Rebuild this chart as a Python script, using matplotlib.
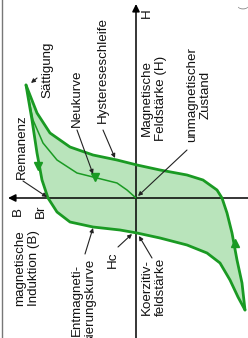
import matplotlib
matplotlib.use("Agg")
import matplotlib.pyplot as plt

plt.rcParams['font.family'] = ['Liberation Sans', 'DejaVu Sans']

# Hysteresis loop data (H = magnetic field strength, B = induction), arbitrary units
desc_H = [113, 78, 45, 18, 0, -14, -24, -29, -32, -35, -40, -47, -55, -65, -82, -99, -112]
desc_B = [110, 104, 99, 94, 88, 79, 66, 43, 16, -1, -24, -51, -71, -84, -94, -102, -109]

asc_H = [-112, -85, -62, -35, -15, 0, 8, 18, 23, 28, 33, 38, 43, 51, 65, 85, 113]
asc_B = [-109, -106, -101, -96, -91, -86, -81, -67, -51, -24, -1, 19, 43, 66, 86, 99, 110]

virgin_H = [0, 8, 15, 20, 25, 38, 55, 78, 113]
virgin_B = [0, 9, 19, 39, 59, 79, 93, 103, 110]

GREEN = '#1a9a23'
FILL = '#b9e4bb'

W, Hh = 248, 338
OX, OY = 136, 198  # pixel position of origin

fig = plt.figure(figsize=(W / 100, Hh / 100), dpi=100)
ax = fig.add_axes([0, 0, 1, 1])
ax.set_xlim(-OX, W - OX)
ax.set_ylim(OY - Hh, OY)
ax.axis('off')


def P(px, py):
    return (px - OX, OY - py)


# rotated chart: image x = -B, image y = H
def rot(Hs, Bs):
    return [-b for b in Bs], list(Hs)


dx, dy = rot(desc_H, desc_B)
ax_, ay_ = rot(asc_H, asc_B)
vx, vy = rot(virgin_H, virgin_B)

ax.fill(dx + ax_, dy + ay_, color=FILL, lw=0, zorder=1)

# axes
ax.annotate('', xy=P(OX, 4), xytext=P(OX, Hh + 2),
            arrowprops=dict(arrowstyle='-|>', color='black', lw=1.1,
                            mutation_scale=11, shrinkA=0, shrinkB=0), zorder=2)
ax.annotate('', xy=P(8, OY), xytext=P(W + 2, OY),
            arrowprops=dict(arrowstyle='-|>', color='black', lw=1.1,
                            mutation_scale=11, shrinkA=0, shrinkB=0), zorder=2)
ax.plot([P(2, 0)[0], P(2, Hh)[0]], [P(2, 0)[1], P(2, Hh)[1]], color='#777777', lw=1.0)

for xs, ys, lw in ((dx, dy, 2.0), (ax_, ay_, 2.0), (vx, vy, 1.1)):
    ax.plot(xs, ys, color=GREEN, lw=lw, zorder=3,
            solid_joinstyle='round', solid_capstyle='round')

# direction arrowheads
ax.plot(*P(38, 166), marker='v', color=GREEN, ms=6, zorder=4)
ax.plot(*P(235, 243), marker='^', color=GREEN, ms=6, zorder=4)
ax.plot(*P(95, 177), marker='v', color=GREEN, ms=6, zorder=4)

fs = 9.6
texts = [
    ("Sättigung", 47, 70),
    ("Neukurve", 77, 98),
    ("Hystereseschleife", 103, 70),
    ("Remanenz", 22, 147),
    ("B", 18, 211),
    ("Br", 41, 211),
    ("magnetische\nInduktion (B)", 27, 268),
    ("Entmagneti-\nsierungskurve", 84, 300),
    ("Hc", 113, 260),
    ("Koerzitiv-\nfeldstärke", 154, 287),
    ("Magnetische\nFeldstärke (H)", 154, 98),
    ("unmagnetischer\nZustand", 199, 95),
    ("H", 147, 13),
]
for s, x, y in texts:
    ax.text(*P(x, y), s, rotation=90, ha='center', va='center',
            multialignment='center', fontsize=fs, color='#111111',
            linespacing=1.15, zorder=5)

ax.text(*P(243, 7), "(", rotation=90, ha='center', va='center',
        fontsize=7, color='#888888')

pointers = [
    ((37, 78), (31, 83)),
    ((77, 130), (93, 174)),
    ((103, 130), (115, 158)),
    ((23, 181), (47, 197)),
    ((85, 254), (93, 228)),
    ((118, 247), (132, 234)),
    ((152, 258), (139, 236)),
    ((187, 150), (138, 196)),
]
for (x0, y0), (x1, y1) in pointers:
    ax.annotate('', xy=P(x1, y1), xytext=P(x0, y0),
                arrowprops=dict(arrowstyle='-|>', color='#222222', lw=0.8,
                                mutation_scale=6, shrinkA=0, shrinkB=0),
                zorder=4)

fig.savefig('out.png', dpi=100)
